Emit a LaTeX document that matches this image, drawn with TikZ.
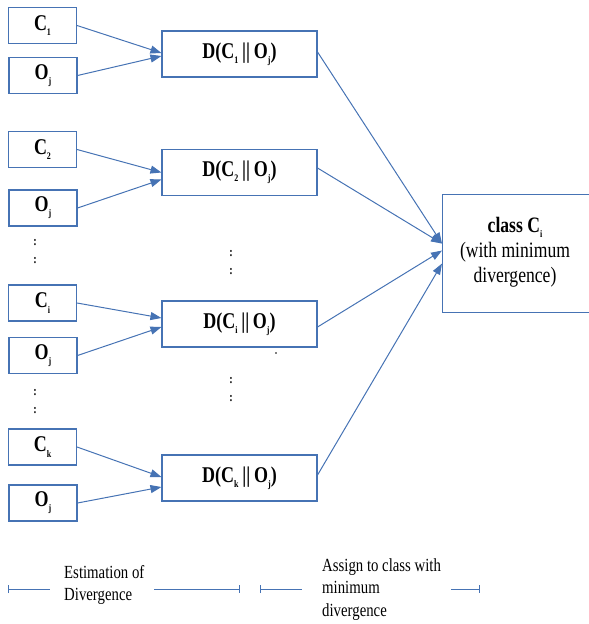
\documentclass[tikz,border=0pt]{standalone}
\usepackage{fontspec}
\setmainfont[FakeStretch=0.8]{Liberation Serif}
\usetikzlibrary{arrows.meta}
\definecolor{bl}{RGB}{70,115,180}
\newcommand\sbs[1]{\raisebox{-0.5ex}{\fontsize{10}{10}\selectfont #1}}
\tikzset{
  box/.style={draw=bl, line width=1.1pt, fill=white, inner sep=0pt, font=\fontsize{22.5}{24}\selectfont\bfseries},
  inbox/.style={box, minimum width=68pt, minimum height=36pt},
  dbox/.style={box, minimum width=155pt, minimum height=46pt},
  arr/.style={draw=bl, line width=1pt, -{Triangle[length=11pt,width=8pt]}},
  leg/.style={draw=bl, line width=0.9pt},
  dots/.style={font=\fontsize{13}{18}\selectfont\bfseries, inner sep=0pt, align=center},
  legtext/.style={font=\fontsize{18.5}{22.5}\selectfont, align=left, inner sep=0pt, anchor=north west}
}
\begin{document}
\begin{tikzpicture}[x=1pt,y=-1pt]
\useasboundingbox (0,0) rectangle (589,624);
% input boxes
\node[inbox] (c1) at (42.5,25.5) {C\sbs{1}};
\node[inbox] (o1) at (43,75.5) {O\sbs{j}};
\node[inbox] (c2) at (42.5,149.5) {C\sbs{2}};
\node[inbox] (o2) at (43,208) {O\sbs{j}};
\node[inbox] (ci) at (42.5,303) {C\sbs{i}};
\node[inbox] (oi) at (43,355.5) {O\sbs{j}};
\node[inbox] (ck) at (42.5,447) {C\sbs{k}};
\node[inbox] (ok) at (43,503) {O\sbs{j}};
% dots left
\node[dots] (ldots1) at (35,252) {:\\:};
\node[dots] (ldots2) at (35,402) {:\\:};
% divergence boxes
\node[dbox] (d1) at (239.5,54) {D(C\sbs{1}\,||\,O\sbs{j})};
\node[dbox] (d2) at (239.5,172.5) {D(C\sbs{2}\,||\,O\sbs{j})};
\node[dbox] (di) at (239.5,324) {D(C\sbs{i}\,||\,O\sbs{j})};
\node[dbox] (dk) at (239.5,478) {D(C\sbs{k}\,||\,O\sbs{j})};
% middle dots
\node[dots] (mdots1) at (231,263) {:\\:};
\node[dots] (mdots2) at (231,390) {:\\:};
\fill (276,353) circle (0.8pt) coordinate (spot);
% class box
\node[draw=bl, line width=1.1pt, minimum width=150pt, minimum height=118pt, inner sep=0pt, anchor=north west] (cls) at (442,194) {};
\node[font=\fontsize{22}{25}\selectfont, align=center, inner sep=0pt] (clst) at (515,252)
  {\textbf{class C\sbs{i}}\\(with minimum\\divergence)};
% arrows inputs to D
\draw[arr] (c1.east) -- ([yshift=1pt]d1.west);
\draw[arr] (o1.east) -- ([yshift=-2pt]d1.west);
\draw[arr] (c2.east) -- ([yshift=0pt]d2.west);
\draw[arr] (o2.east) -- ([yshift=-7pt]d2.west);
\draw[arr] (ci.east) -- ([yshift=6pt]di.west);
\draw[arr] (oi.east) -- ([yshift=-3pt]di.west);
\draw[arr] (ck.east) -- ([yshift=1pt]dk.west);
\draw[arr] (ok.east) -- ([yshift=-9pt]dk.west);
% arrows D to class
\draw[arr] ([yshift=2pt]d1.east) -- ([yshift=10pt]cls.west);
\draw[arr] ([yshift=4.5pt]d2.east) -- ([yshift=10pt]cls.west);
\draw[arr] ([yshift=-3pt]di.east) -- ([yshift=3pt]cls.west);
\draw[arr] ([yshift=3pt]dk.east) -- ([yshift=-10pt]cls.west);
% legend
\coordinate (l1a) at (8,589); \coordinate (l1b) at (50,589);
\coordinate (l2a) at (154,589); \coordinate (l2b) at (240,589);
\coordinate (l3a) at (260,589); \coordinate (l3b) at (302,589);
\coordinate (l4a) at (451,589); \coordinate (l4b) at (480,589);
\draw[leg, {Bar[width=8pt]}-] (l1a) -- (l1b);
\draw[leg, -{Bar[width=8pt]}] (l2a) -- (l2b);
\draw[leg, {Bar[width=8pt]}-] (l3a) -- (l3b);
\draw[leg, -{Bar[width=8pt]}] (l4a) -- (l4b);
\node[legtext] (t1) at (64,565) {Estimation of\\Divergence};
\node[legtext] (t2) at (322,558) {Assign to class with\\minimum\\divergence};
\end{tikzpicture}
\end{document}
